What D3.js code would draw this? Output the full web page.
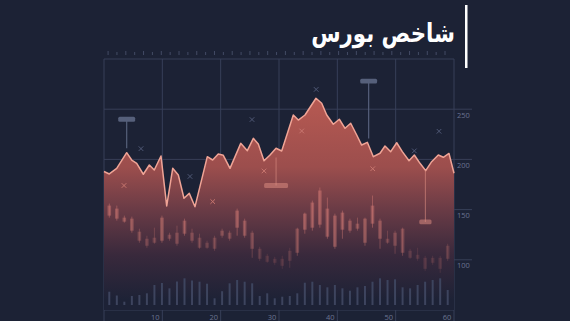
<!DOCTYPE html>
<html><head><meta charset="utf-8">
<script src="https://cdn.jsdelivr.net/npm/d3@7/dist/d3.min.js"></script>
<style>html,body{margin:0;padding:0;background:#1c2235;}svg{display:block;}</style>
</head><body>
<svg id="chart" width="570" height="321"></svg>
<script>
// ---- data ----
const titleText = "شاخص بورس";
const xTickLabels = [10, 20, 30, 40, 50, 60];
const yTickLabels = [100, 150, 200, 250];
// index line: x position (0-60) and value
const lineX = [0,0.91,2.18,3.89,4.75,5.61,6.74,7.77,8.62,9.77,10.75,11.78,12.74,13.71,14.62,15.6,17.71,18.63,19.59,20.45,21.6,23.44,24.57,25.6,26.45,27.43,28.46,29.49,30.46,32.45,33.31,34.46,36.34,37.32,38.18,39.31,40.34,41.32,42.29,43.32,44.17,45.14,46.17,47.32,48.17,49.15,50.18,51.14,52.29,53.2,54.17,55.15,56.17,57.31,58.17,59.14,60];
const lineV = [188,185.5,191,206.7,199.4,196.1,185.2,194.4,189.4,203.4,153.6,191.1,184.5,161.3,166.2,152.9,202.7,199.4,205.4,204.1,191.1,216,208.7,221,215.3,198.7,204.4,211.1,208.4,244.2,239.2,244.2,260.9,255.9,244.2,235,240,231,236,224.3,214.3,217,202.7,206.1,213.3,207.7,216.6,207.7,198.7,204.4,196.1,188.8,197.7,204.4,202.1,205.9,186.2];
// candles (46 sessions)
const candleOpen  = [154,151,142,141,128,121,122,142,125,127,139,127,122,117,122,129,127,149,139,127,111,104,101,101,109,131,146,157,169,151,144,147,139,136,141,154,139,121,127,131,109,105,102,102,102,114];
const candleClose = [144,141,138,129,119,114,117,119,121,116,126,119,112,112,111,124,121,132,124,111,101,98,97,94,99,107,130,132,135,123,113,130,129,131,117,136,121,117,114,107,102,101,91,97,91,101];
const candleHigh  = [156,154,144,143,131,124,132,144,127,134,141,131,126,119,124,131,129,151,141,129,113,106,103,104,112,132,147,159,172,162,146,149,141,142,142,164,141,129,129,132,111,112,104,104,104,116];
const candleLow   = [142,139,137,127,117,112,116,117,119,114,124,117,111,111,109,122,119,124,122,102,99,97,95,91,92,104,126,129,132,121,111,121,127,129,114,132,111,116,106,104,101,99,89,95,87,99];
const volume = [13.3,9.5,3.3,9,10,11.7,20,22,16.7,23.5,26.7,24.5,23.3,21.3,6.7,13.8,21.7,25,23.3,21.7,9,11.7,6.7,8.3,9,11.7,22.3,23.3,20,17.7,20,16.7,14.3,17.7,19,23.3,26.7,25,25.7,17.7,16.7,20,23.3,25,26.7,15];
// marker crosses
const crossSlateX = [6.34,14.74,25.37,36.37,53.2,57.43];
const crossSlateV = [210.7,183,239.7,269.7,208.5,228];
const crossRedX = [3.43,18.64,27.43,33.89,46.07];
const crossRedV = [174,158,188.5,228.3,190.7];
// annotation pills: x, pill value, line end value, width (x units)
const pillX    = [3.89, 29.5, 45.37, 55.1];
const pillV    = [240, 174, 278, 137.7];
const pillEnd  = [211, 202, 220.7, 189];
const pillW    = [2.9, 4.1, 2.9, 2.1];
const pillTone = ["slate","red","slate","red"];

// ---- drawing ----
const svg = d3.select("#chart");
const W = 570, H = 321;
svg.append("rect").attr("width",W).attr("height",H).attr("fill","#1c2235");

const x = d3.scaleLinear().domain([0,60]).range([104,454]);
const y = d3.scaleLinear().domain([50,300]).range([310,59]);
const xc = d3.scaleLinear().domain([0,45]).range([109.3,447.7]);
const yv = d3.scaleLinear().domain([0,30]).range([305,275]);

const defs = svg.append("defs");
const grad = defs.append("linearGradient").attr("id","areaGrad")
  .attr("gradientUnits","userSpaceOnUse").attr("x1",0).attr("x2",0).attr("y1",95).attr("y2",300);
[[0,"#b85a52"],[0.35,"#9c4e4d"],[0.55,"#6c3c46"],[0.78,"#39293c"],[1,"#1d2236"]].forEach(s=>{
  grad.append("stop").attr("offset",s[0]).attr("stop-color",s[1]);
});

const gridColor = "#373f58";
const g = svg.append("g");
// horizontal grid
[50,100,150,200,250,300].forEach(v=>{
  const ext = (v===50||v===300) ? 454 : 472;
  g.append("line").attr("x1",104).attr("x2",ext).attr("y1",y(v)).attr("y2",y(v))
   .attr("stroke",gridColor).attr("stroke-width",1);
});
// vertical grid
[0,10,20,30,40,50,60].forEach(v=>{
  g.append("line").attr("x1",x(v)).attr("x2",x(v)).attr("y1",y(300)).attr("y2",321)
   .attr("stroke",gridColor).attr("stroke-width",1);
});
// top decorative ticks
d3.range(0.7, 59, 1.52).forEach((v,i)=>{
  g.append("line").attr("x1",x(v)).attr("x2",x(v)).attr("y1",i%2?52:51).attr("y2",55)
   .attr("stroke","#434b65").attr("stroke-width",1);
});

// area
const pts = lineX.map((d,i)=>[d,lineV[i]]);
const area = d3.area().x(d=>x(d[0])).y0(y(50)).y1(d=>y(d[1]));
svg.append("path").datum(pts).attr("d",area).attr("fill","url(#areaGrad)");

// candles
const cg = svg.append("g");
candleOpen.forEach((o,i)=>{
  const c = candleClose[i];
  const cx = xc(i);
  const fade = Math.max(0.14, Math.min(0.4, (Math.max(o,c)-85)/150));
  cg.append("line").attr("x1",cx).attr("x2",cx).attr("y1",y(candleHigh[i])).attr("y2",y(candleLow[i]))
    .attr("stroke","#e0837a").attr("stroke-opacity",fade).attr("stroke-width",1);
  cg.append("rect").attr("x",cx-1.8).attr("width",3.6)
    .attr("y",y(Math.max(o,c))).attr("height",Math.max(1.5,y(Math.min(o,c))-y(Math.max(o,c))))
    .attr("fill","#e0837a").attr("fill-opacity",fade);
});

// line
const line = d3.line().x(d=>x(d[0])).y(d=>y(d[1]));
svg.append("path").datum(pts).attr("d",line).attr("fill","none")
  .attr("stroke","#f0a496").attr("stroke-width",1.5).attr("stroke-linejoin","round");

// volume bars
volume.forEach((v,i)=>{
  svg.append("rect").attr("x",xc(i)-1).attr("width",2).attr("y",yv(v)).attr("height",yv(0)-yv(v))
    .attr("fill","#3d445e");
});

// crosses
function cross(cx,cy,col){
  const s=2.3;
  svg.append("path").attr("d",`M${cx-s},${cy-s}L${cx+s},${cy+s}M${cx-s},${cy+s}L${cx+s},${cy-s}`)
    .attr("stroke",col).attr("stroke-width",1);
}
crossSlateX.forEach((d,i)=>cross(x(d),y(crossSlateV[i]),"#4f5875"));
crossRedX.forEach((d,i)=>cross(x(d),y(crossRedV[i]),"#c8766f"));

// pills
pillX.forEach((d,i)=>{
  const col = pillTone[i]==="slate" ? "#56607b" : "#d88a80";
  const op = pillTone[i]==="slate" ? 1 : 0.55;
  svg.append("line").attr("x1",x(d)).attr("x2",x(d)).attr("y1",y(pillV[i])).attr("y2",y(pillEnd[i]))
    .attr("stroke",col).attr("stroke-opacity",op).attr("stroke-width",1.2);
  const w = x(pillW[i]) - x(0);
  svg.append("rect").attr("x",x(d)-w/2).attr("y",y(pillV[i])-2.4).attr("width",w).attr("height",4.8)
    .attr("rx",1.5).attr("fill",col).attr("fill-opacity",op);
});

// axis labels
const labelColor = "#6b7390";
xTickLabels.forEach(v=>{
  svg.append("text").attr("x",x(v)-7).attr("y",319.5).attr("text-anchor","middle")
    .attr("font-family","Open Sans, sans-serif").attr("font-size",7.5).attr("fill",labelColor).text(v);
});
yTickLabels.forEach(v=>{
  svg.append("text").attr("x",457).attr("y",y(v)+8.5).attr("text-anchor","start")
    .attr("font-family","Open Sans, sans-serif").attr("font-size",7.5).attr("fill",labelColor).text(v);
});

// title
svg.append("text").attr("transform","translate(455,42) scale(0.82,1)").attr("text-anchor","end")
  .attr("font-family","DejaVu Sans, Noto Sans, sans-serif").attr("font-weight","bold")
  .attr("font-size",26).attr("fill","#ffffff").text(titleText);
svg.append("rect").attr("x",465).attr("y",5).attr("width",2.5).attr("height",63).attr("fill","#ffffff");
</script>
</body></html>
